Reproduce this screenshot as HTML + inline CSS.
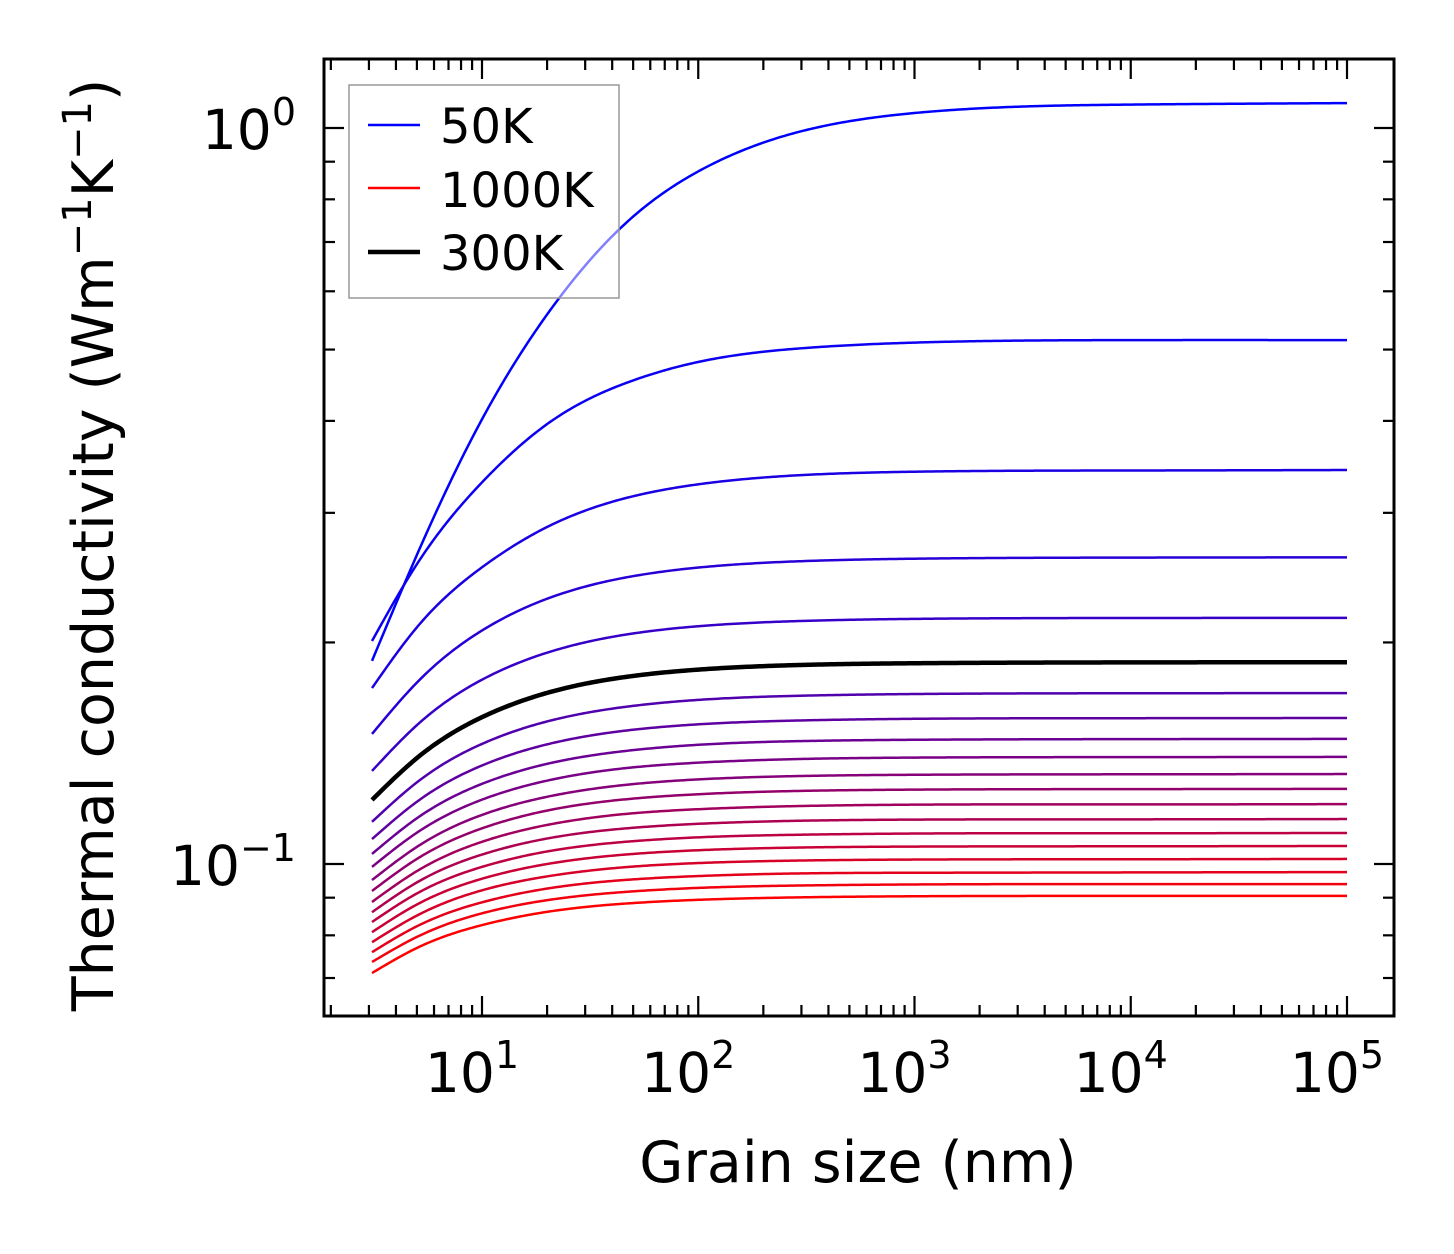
<!DOCTYPE html>
<html><head><meta charset="utf-8"><style>
html,body{margin:0;padding:0;background:#fff;}
svg{display:block;font-family:"DejaVu Sans","Liberation Sans",sans-serif;}
</style></head><body>
<svg id="chart" width="1454" height="1254" viewBox="0 0 1454 1254">
<g id="curves"></g>
<g id="axes"></g>
<rect x="349" y="85" width="270" height="213" fill="#fff" fill-opacity="0.5" stroke="#999" stroke-width="1.5"/>
<g><line x1="368" y1="125" x2="420" y2="125" stroke="#0000ff" stroke-width="2.5"/><text x="440" y="143" font-size="48">50K</text></g>
<g><line x1="368" y1="188" x2="420" y2="188" stroke="#ff0000" stroke-width="2.5"/><text x="440" y="207" font-size="48">1000K</text></g>
<g><line x1="368" y1="252" x2="420" y2="252" stroke="#000" stroke-width="4.5"/><text x="440" y="270" font-size="48">300K</text></g>
<text x="858" y="1182" font-size="57" text-anchor="middle">Grain size (nm)</text>
<text transform="translate(113,545) rotate(-90)" font-size="57" text-anchor="middle">Thermal conductivity (Wm<tspan dy="-22" font-size="40">−1</tspan><tspan dy="22">K</tspan><tspan dy="-22" font-size="40">−1</tspan><tspan dy="22">)</tspan></text>
</svg>
<script>
const temps = [50,100,150,200,250,300,350,400,450,500,550,600,650,700,750,800,850,900,950,1000];
const sizes = [3.1,5,10,20,50,100,300,1000,10000,100000];
const k50 = [0.1888,0.263,0.402,0.558,0.758,0.873,0.990,1.048,1.076,1.081];
const k100 = [0.2009,0.2555,0.330,0.396,0.454,0.481,0.502,0.511,0.515,0.515];
const k150 = [0.1734,0.2097,0.253,0.287,0.316,0.328,0.3376,0.3412,0.3425,0.343];
const k200 = [0.1502,0.1764,0.2076,0.2293,0.2461,0.2528,0.2579,0.2599,0.2608,0.261];
const k250 = [0.1338,0.1544,0.1780,0.1937,0.2057,0.2104,0.2139,0.2153,0.2159,0.216];
const k300 = [0.1222,0.1393,0.1583,0.1708,0.1801,0.1837,0.1864,0.1874,0.1879,0.188];
const k350 = [0.1141,0.1291,0.1456,0.1562,0.1640,0.1671,0.1693,0.1702,0.1706,0.1707];
const k400 = [0.1081,0.1215,0.1361,0.1454,0.1522,0.1548,0.1567,0.1575,0.1578,0.1579];
const k450 = [0.1032,0.1154,0.1285,0.1368,0.1428,0.1452,0.1469,0.1475,0.1478,0.1479];
const k500 = [0.0991,0.1103,0.1223,0.1298,0.1353,0.1373,0.1389,0.1395,0.1397,0.1398];
const k550 = [0.0951,0.1055,0.1166,0.1234,0.1284,0.1303,0.1317,0.1322,0.1324,0.1325];
const k600 = [0.0919,0.1016,0.1118,0.1182,0.1227,0.1244,0.1257,0.1262,0.1264,0.1265];
const k650 = [0.0888,0.0978,0.1072,0.1130,0.1172,0.1187,0.1199,0.1204,0.1205,0.1206];
const k700 = [0.0860,0.0944,0.1030,0.1083,0.1120,0.1134,0.1145,0.1149,0.1150,0.1151];
const k750 = [0.0834,0.0912,0.0991,0.1040,0.1074,0.1087,0.1096,0.1100,0.1101,0.1102];
const k800 = [0.0808,0.0881,0.0955,0.1000,0.1032,0.1044,0.1053,0.1056,0.1057,0.1058];
const k850 = [0.0783,0.0851,0.0921,0.0962,0.0992,0.1003,0.1011,0.1014,0.1015,0.1016];
const k900 = [0.0759,0.0823,0.0887,0.0926,0.0953,0.0963,0.0971,0.0973,0.0974,0.0975];
const k950 = [0.0736,0.0796,0.0857,0.0893,0.0918,0.0928,0.0935,0.0938,0.0939,0.0939];
const k1000 = [0.0711,0.0769,0.0826,0.0861,0.0885,0.0894,0.0901,0.0904,0.0905,0.0905];
const series = [k50,k100,k150,k200,k250,k300,k350,k400,k450,k500,k550,k600,k650,k700,k750,k800,k850,k900,k950,k1000];
const xTickLabels = ["1","2","3","4","5"];
const yTickLabels = ["−1","0"];

const NS = "http://www.w3.org/2000/svg";
const L=324, R=1394, T=59, B=1016;
function xs(v){ return 482 + (Math.log10(v)-1)*216.25; }
function ys(v){ return 128 - Math.log10(v)*736; }

function interp(x, y){
  const n=x.length, h=[], al=[0], l=[1], mu=[0], z=[0], c=new Array(n).fill(0), b=[], d=[];
  for(let i=0;i<n-1;i++) h.push(x[i+1]-x[i]);
  for(let i=1;i<n-1;i++) al.push(3/h[i]*(y[i+1]-y[i])-3/h[i-1]*(y[i]-y[i-1]));
  for(let i=1;i<n-1;i++){
    l[i]=2*(x[i+1]-x[i-1])-h[i-1]*mu[i-1];
    mu[i]=h[i]/l[i]; z[i]=(al[i]-h[i-1]*z[i-1])/l[i];
  }
  for(let j=n-2;j>=0;j--){
    c[j]=z[j]-mu[j]*c[j+1];
    b[j]=(y[j+1]-y[j])/h[j]-h[j]*(c[j+1]+2*c[j])/3;
    d[j]=(c[j+1]-c[j])/(3*h[j]);
  }
  return function(t){
    let i=0; while(i<n-2 && t>x[i+1]) i++;
    const dx=t-x[i];
    return y[i]+b[i]*dx+c[i]*dx*dx+d[i]*dx*dx*dx;
  };
}

const curves=document.getElementById('curves');
const order=[...series.keys()].filter(i=>temps[i]!==300).concat([temps.indexOf(300)]);
order.forEach(i=>{
  const lx=sizes.map(Math.log10), ly=series[i].map(Math.log10);
  const f=interp(lx,ly);
  let d="";
  const a=lx[0], b=lx[lx.length-1];
  for(let j=0;j<=400;j++){
    const x=a+(b-a)*j/400;
    d+=(j?"L":"M")+xs(Math.pow(10,x)).toFixed(2)+","+ys(Math.pow(10,f(x))).toFixed(2);
  }
  const p=document.createElementNS(NS,'path');
  const t=(temps[i]-50)/950;
  const col= temps[i]===300 ? "#000" : "rgb("+Math.round(255*t)+",0,"+Math.round(255*(1-t))+")";
  p.setAttribute('d',d); p.setAttribute('fill','none'); p.setAttribute('stroke',col);
  p.setAttribute('stroke-width', temps[i]===300?4.5:2.5);
  
  
  curves.appendChild(p);
});

const axes=document.getElementById('axes');
function line(x1,y1,x2,y2,w,name){
  const l=document.createElementNS(NS,'line');
  l.setAttribute('x1',x1);l.setAttribute('y1',y1);l.setAttribute('x2',x2);l.setAttribute('y2',y2);
  l.setAttribute('stroke','#000');l.setAttribute('stroke-width',w);
  
  
  axes.appendChild(l);
}
const fr=document.createElementNS(NS,'rect');
fr.setAttribute('x',L);fr.setAttribute('y',T);fr.setAttribute('width',R-L);fr.setAttribute('height',B-T);
fr.setAttribute('fill','none');fr.setAttribute('stroke','#000');fr.setAttribute('stroke-width',3);


axes.appendChild(fr);

for(let e=0;e<=5;e++){
  for(let m=1;m<=9;m++){
    const v=m*Math.pow(10,e), x=xs(v);
    if(x<L+1||x>R-1) continue;
    const len=m===1?20:11;
    line(x,B,x,B-len,2.2,'x-tick');
    line(x,T,x,T+len,2.2,'x-tick-top');
  }
}
xTickLabels.forEach(s=>{
  const x=xs(Math.pow(10,+s));
  const t=document.createElementNS(NS,'text');
  t.setAttribute('x',x-10);t.setAttribute('y',1092);t.setAttribute('font-size','55');t.setAttribute('text-anchor','middle');
  t.innerHTML='10<tspan dy="-24" font-size="38">'+s+'</tspan>';
  
  
  axes.appendChild(t);
});
for(let e=-2;e<=0;e++){
  for(let m=1;m<=9;m++){
    const v=m*Math.pow(10,e), y=ys(v);
    if(y<T+1||y>B-1) continue;
    const len=m===1?20:11;
    line(L,y,L+len,y,2.2,'y-tick');
    line(R,y,R-len,y,2.2,'y-tick-right');
  }
}
yTickLabels.forEach(s=>{
  const y=ys(Math.pow(10,parseInt(s.replace('−','-'))));
  const t=document.createElementNS(NS,'text');
  t.setAttribute('x',296);t.setAttribute('y',y+21);t.setAttribute('font-size','55');t.setAttribute('text-anchor','end');
  t.innerHTML='10<tspan dy="-24" font-size="38">'+s+'</tspan>';
  
  
  axes.appendChild(t);
});
</script>
</body></html>
